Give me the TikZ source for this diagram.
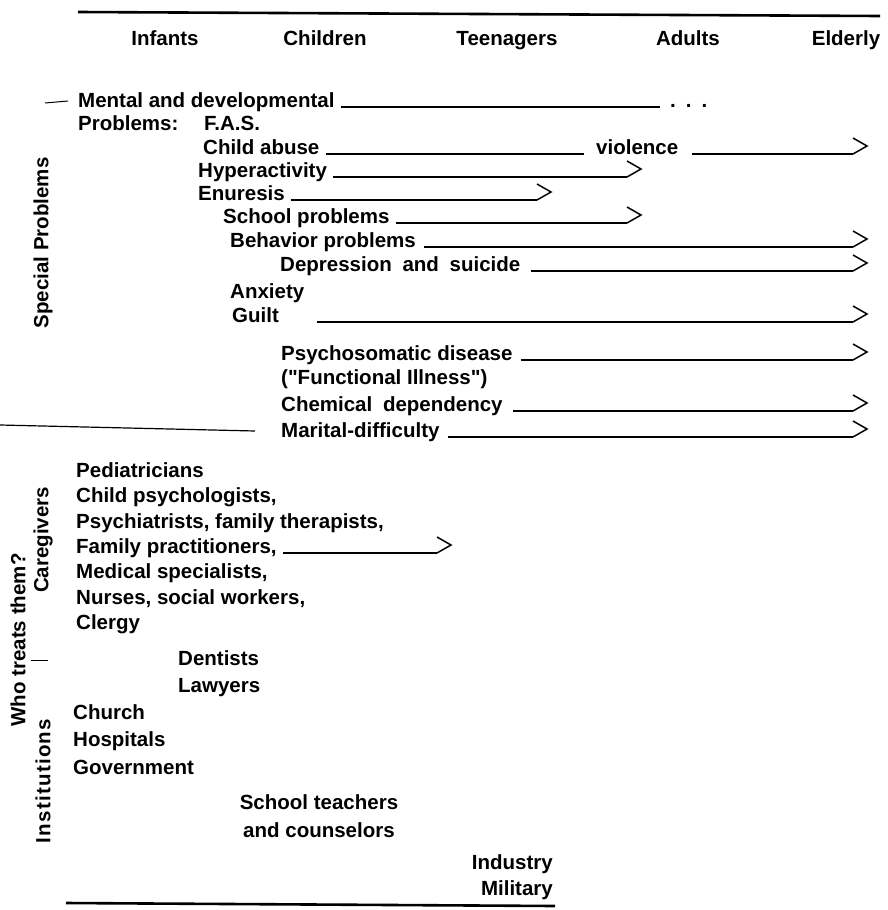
\documentclass[tikz,border=0pt]{standalone}
\usepackage{fontspec}
\setmainfont{Liberation Sans}
\newfontfamily\plainquote{Liberation Sans}
\usetikzlibrary{positioning}

\begin{document}
\begin{tikzpicture}[x=1pt, y=-1pt, font=\fontsize{20.5}{24}\selectfont\bfseries,
    txt/.style={anchor=base west, inner sep=0pt},
    hd/.style={anchor=base, inner sep=0pt},
    side/.style={rotate=90, inner sep=0pt},
    bar/.style={line width=1.6pt},
    rule/.style={line width=2.6pt},
    chev/.pic={\draw[line width=1.5pt, line join=miter] (0,0) -- (14,-8) -- (0,-16);}]
    \useasboundingbox (0,0) rectangle (887,910);

    % age groups
    \draw[rule] (78,12) -- (880,16);
    \node[hd] (inf) at (165,45) {Infants};
    \node[hd] (chi) at (325,45) {Children};
    \node[hd] (teen) at (507,45) {Teenagers};
    \node[hd] (adu) at (688,45) {Adults};
    \node[hd] (eld) at (846,45) {Elderly};

    % special problems
    \node[side] (spec) at (43,243) {Special Problems};
    \draw[line width=1pt] (45,103) -- (68,101);
    \node[txt] (mental) at (78,107) {Mental and developmental};
    \node[txt] (mdots) at (670,107) {.\hspace{10pt}.\hspace{10pt}.};
    \node[txt] (probs) at (78,130) {Problems:};
    \node[txt] (fas) at (204,130) {F.A.S.};
    \node[txt] (abuse) at (203,154) {Child abuse};
    \node[txt] (viol) at (596,154) {violence};
    \node[txt] (hyper) at (198,177) {Hyperactivity};
    \node[txt] (enur) at (198,200) {Enuresis};
    \node[txt] (school) at (223,223) {School problems};
    \node[txt] (behav) at (230,247) {Behavior problems};
    \node[txt] (depr) at (280,271) {Depression\hspace{5pt} and\hspace{5pt} suicide};
    \node[txt] (anx) at (230,298) {Anxiety};
    \node[txt] (guilt) at (232,322) {Guilt};
    \node[txt] (psych) at (281,360) {Psychosomatic disease};
    \node[txt] (funct) at (281,384) {\plainquote\bfseries ("Functional Illness")};
    \node[txt] (chem) at (281,411) {Chemical\hspace{5pt} dependency};
    \node[txt] (marit) at (281,437) {Marital-difficulty};

    \coordinate (violE) at (853,154);
    \coordinate (hyperE) at (627,177);
    \coordinate (enurE) at (537,200);
    \coordinate (schoolE) at (627,223);
    \coordinate (behavE) at (853,247);
    \coordinate (deprE) at (853,271);
    \coordinate (guiltE) at (853,322);
    \coordinate (psychE) at (853,360);
    \coordinate (chemE) at (853,411);
    \coordinate (maritE) at (853,437);

    \draw[bar] ([xshift=6]mental.base east) -- ([xshift=-10]mdots.base west);
    \draw[bar] ([xshift=6]abuse.base east) -- ([xshift=-12]viol.base west);
    \draw[bar] ([xshift=14]viol.base east) -- (violE) pic {chev};
    \draw[bar] ([xshift=6]hyper.base east) -- (hyperE) pic {chev};
    \draw[bar] ([xshift=6]enur.base east) -- (enurE) pic {chev};
    \draw[bar] ([xshift=6]school.base east) -- (schoolE) pic {chev};
    \draw[bar] ([xshift=8]behav.base east) -- (behavE) pic {chev};
    \draw[bar] ([xshift=10]depr.base east) -- (deprE) pic {chev};
    \draw[bar] ([xshift=38]guilt.base east) -- (guiltE) pic {chev};
    \draw[bar] ([xshift=8]psych.base east) -- (psychE) pic {chev};
    \draw[bar] ([xshift=10]chem.base east) -- (chemE) pic {chev};
    \draw[bar] ([xshift=8]marit.base east) -- (maritE) pic {chev};

    \draw[line width=1.2pt] (0,425) -- (255,431);

    % who treats them
    \node[side] (who) at (18,640) {Who treats them?};
    \node[side] (care) at (43,540) {Caregivers};
    \node[side] (inst) at (43,781) {\addfontfeatures{LetterSpace=6}Institutions};
    \draw[line width=1pt] (31,660) -- (48,660);

    \node[txt] (ped) at (76,477) {Pediatricians};
    \node[txt] (cpsy) at (76,502) {Child psychologists,};
    \node[txt] (psyt) at (76,528) {Psychiatrists, family therapists,};
    \node[txt] (famp) at (76,553) {Family practitioners,};
    \node[txt] (med) at (76,578) {Medical specialists,};
    \node[txt] (nurs) at (76,604) {Nurses, social workers,};
    \node[txt] (cler) at (76,629) {Clergy};
    \node[txt] (dent) at (178,665) {Dentists};
    \node[txt] (lawy) at (178,692) {Lawyers};
    \node[txt] (church) at (73,719) {Church};
    \node[txt] (hosp) at (73,746) {Hospitals};
    \node[txt] (gov) at (73,774) {Government};
    \node[hd] (teach) at (319,809) {School teachers};
    \node[hd] (couns) at (319,837) {and counselors};
    \node[anchor=base east, inner sep=0pt] (ind) at (553,869) {Industry};
    \node[anchor=base east, inner sep=0pt] (mil) at (553,895) {Military};

    \coordinate (fampE) at (437,553);
    \draw[bar] ([xshift=6]famp.base east) -- (fampE) pic {chev};

    \draw[rule] (66,903) -- (555,906);
\end{tikzpicture}
\end{document}
